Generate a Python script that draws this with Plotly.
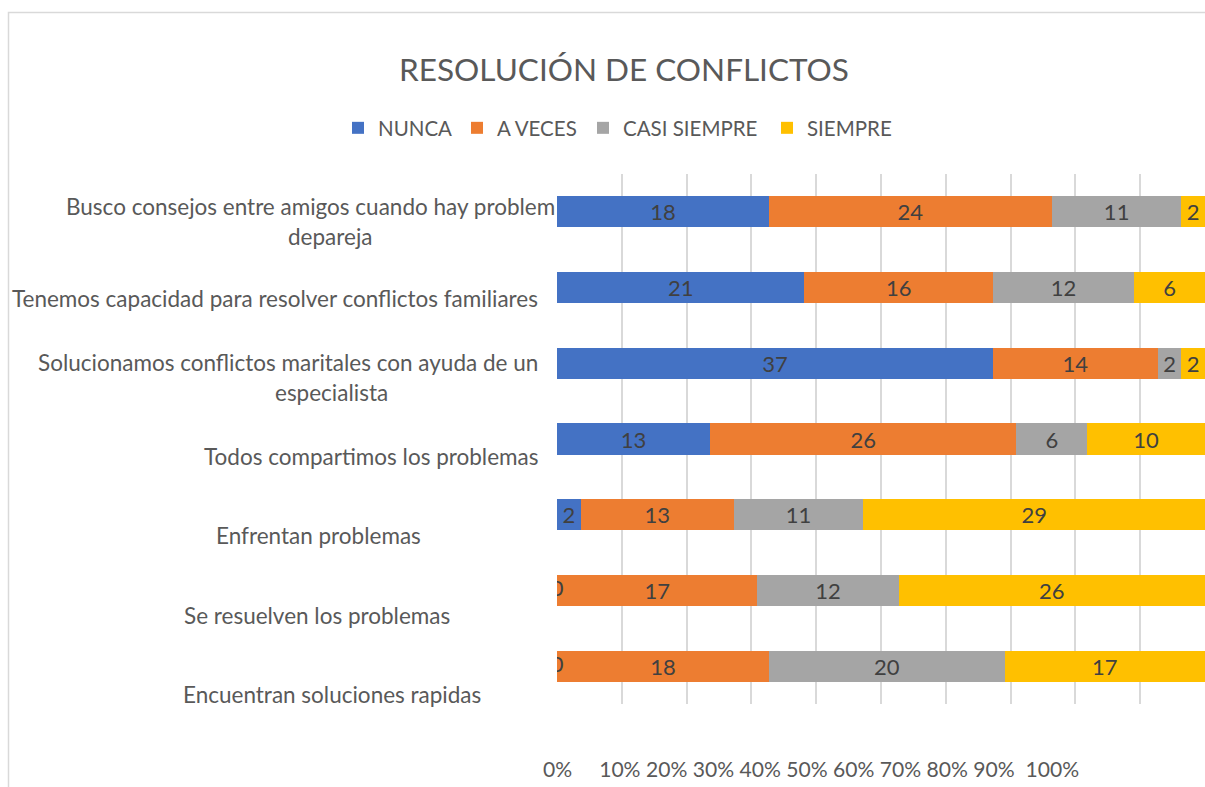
import plotly.graph_objects as go

# ---- data ----
categories = [
    "Busco consejos entre amigos cuando hay problemas de pareja",
    "Tenemos capacidad para resolver conflictos familiares",
    "Solucionamos conflictos maritales con ayuda de un especialista",
    "Todos compartimos los problemas",
    "Enfrentan problemas",
    "Se resuelven los problemas",
    "Encuentran soluciones rapidas",
]
series_names = ["NUNCA", "A VECES", "CASI SIEMPRE", "SIEMPRE"]
nunca = [18, 21, 37, 13, 2, 0, 0]
a_veces = [24, 16, 14, 26, 13, 17, 18]
casi_siempre = [11, 12, 2, 6, 11, 12, 20]
siempre = [2, 6, 2, 10, 29, 26, 17]
tick_labels = ["0%", "10%", "20%", "30%", "40%", "50%", "60%", "70%", "80%", "90%", "100%"]
title_text = "RESOLUCIÓN DE CONFLICTOS"

# displayed label lines (as drawn in the source chart)
label_lines = [
    ["Busco consejos entre amigos cuando hay problem", "depareja"],
    ["Tenemos capacidad para resolver conflictos familiares"],
    ["Solucionamos conflictos maritales con ayuda de un", "especialista"],
    ["Todos compartimos los problemas"],
    ["Enfrentan problemas"],
    ["Se resuelven los problemas"],
    ["Encuentran soluciones rapidas"],
]

# ---- styling ----
colors = ["#4472C4", "#ED7D31", "#A5A5A5", "#FFC000"]
FONT = "Lato"
W, H = 1205, 787
PL, PR, PT, PB = 557, 1205, 174, 704  # plot area in px


def px_x(px):
    return (px - PL) / (PR - PL)


def px_y(py):
    return (PB - py) / (PB - PT)


fig = go.Figure()
values = [nunca, a_veces, casi_siempre, siempre]
legend_ids = ["legend", "legend2", "legend3", "legend4"]
for name, vals, col, lid in zip(series_names, values, colors, legend_ids):
    fig.add_trace(go.Bar(
        y=categories, x=vals, name=name, orientation="h",
        marker=dict(color=col, line=dict(width=0)),
        text=vals, texttemplate="%{x}", textposition="inside", textangle=0,
        insidetextanchor="middle", constraintext="none",
        textfont=dict(family=FONT, size=22, color="#404040"),
        legend=lid, showlegend=True, hoverinfo="x+name",
    ))

# zero-valued segments still get their (clipped) label at the axis origin
zero_y = [c for c, v in zip(categories, nunca) if v == 0]
zero_x = [v for v in nunca if v == 0]
fig.add_trace(go.Scatter(
    x=zero_x, y=zero_y, mode="text", text=[str(v) for v in zero_x],
    textposition="middle center", cliponaxis=True, showlegend=False,
    textfont=dict(family=FONT, size=22, color="#404040"), hoverinfo="skip",
))

# legends positioned individually (text start x in px)
legend_text_x = [378, 497, 623, 807]
legend_layout = {}
for lid, tx in zip(legend_ids, legend_text_x):
    legend_layout[lid] = dict(
        x=(tx - 40) / W, xref="container", xanchor="left",
        y=1 - 128 / H, yref="container", yanchor="middle",
        orientation="h", bgcolor="rgba(0,0,0,0)", borderwidth=0,
        font=dict(family=FONT, size=20.5, color="#595959"),
        itemclick=False, itemdoubleclick=False,
    )

# category label annotations (px positions)
annotations = []
label_pos = [
    [(557, 206, "right"), (330, 236, "center")],
    [(540, 298, "right")],
    [(540, 362, "right"), (331, 392, "center")],
    [(540, 456, "right")],
    [(318, 535, "center")],
    [(317, 615, "center")],
    [(332, 694, "center")],
]
for lines, poss in zip(label_lines, label_pos):
    for txt, (x, y, anc) in zip(lines, poss):
        annotations.append(dict(
            text=txt, x=px_x(x), y=px_y(y), xref="paper", yref="paper",
            xanchor=anc, yanchor="middle", showarrow=False,
            font=dict(family=FONT, size=22.5, color="#595959"),
        ))

# percentage tick text row
sep = ["\u00a0" * 5] + ["\u00a0"] * 8 + ["\u00a0\u00a0"]
tick_str = tick_labels[0]
for s, t in zip(sep, tick_labels[1:]):
    tick_str += s + t
annotations.append(dict(
    text=tick_str, x=px_x(541), y=px_y(768), xref="paper", yref="paper",
    xanchor="left", yanchor="middle", showarrow=False,
    font=dict(family=FONT, size=21.1, color="#595959"),
))

grid_vals = [i * 5.5 for i in range(10)]

fig.update_layout(
    width=W, height=H,
    margin=dict(l=PL, r=W - PR, t=PT, b=H - PB, pad=0),
    paper_bgcolor="white", plot_bgcolor="white",
    barmode="stack", bargap=0.59, showlegend=True,
    title=dict(text=title_text, x=624 / W, xref="container", xanchor="center",
               y=1 - 70 / H, yref="container", yanchor="middle",
               font=dict(family=FONT, size=31.5, color="#595959")),
    xaxis=dict(range=[0, 55], tickvals=grid_vals, showticklabels=False,
               showgrid=True, gridcolor="#D9D9D9", gridwidth=1.5,
               zeroline=False, showline=False, ticks="", fixedrange=True),
    yaxis=dict(autorange="reversed", showticklabels=False, showgrid=False,
               zeroline=False, showline=False, ticks="", fixedrange=True),
    annotations=annotations,
    shapes=[dict(type="rect", xref="paper", yref="paper",
                 x0=px_x(8.5), x1=px_x(1260), y0=px_y(850), y1=px_y(12.5),
                 line=dict(color="#D9D9D9", width=1.5), fillcolor="rgba(0,0,0,0)",
                 layer="below")],
    **legend_layout,
)

fig.write_html(
    "out.html",
    config={"displayModeBar": False},
    post_script="document.body.style.margin='0';document.body.style.overflow='hidden';",
)
